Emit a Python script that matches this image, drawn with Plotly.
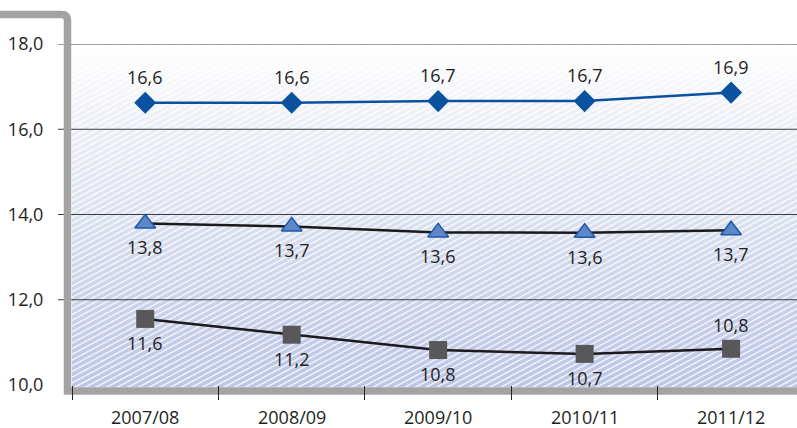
import base64
import plotly.graph_objects as go

# ---- data ----
years = ["2007/08", "2008/09", "2009/10", "2010/11", "2011/12"]
diamond_vals = [16.62, 16.62, 16.66, 16.66, 16.86]
diamond_labels = ["16,6", "16,6", "16,7", "16,7", "16,9"]
triangle_vals = [13.79, 13.72, 13.58, 13.57, 13.63]
triangle_labels = ["13,8", "13,7", "13,6", "13,6", "13,7"]
square_vals = [11.55, 11.18, 10.82, 10.73, 10.85]
square_labels = ["11,6", "11,2", "10,8", "10,7", "10,8"]
square_label_above = [False, False, False, False, True]
y_ticks = [10, 12, 14, 16, 18]
y_ticktext = ["10,0", "12,0", "14,0", "16,0", "18,0"]
grid_vals = [12, 14, 16, 18]

FONT = "Open Sans"
TXT = "#231f20"
FS = 18

W, H = 797, 428
ML, MR, MT, MB = 72, 0, 44, 43
PW, PH = W - ML - MR, H - MT - MB


def px(x):
    return (x - ML) / PW


def py(y):
    return (H - MB - y) / PH


# hatched gradient background as svg
svg = f'''<svg xmlns="http://www.w3.org/2000/svg" width="{PW}" height="{PH}" viewBox="0 0 {PW} {PH}" preserveAspectRatio="none">
<defs>
<linearGradient id="g" x1="0" y1="0" x2="0" y2="1">
<stop offset="0" stop-color="#ffffff"/>
<stop offset="0.25" stop-color="#eceef6"/>
<stop offset="0.5" stop-color="#dce1ef"/>
<stop offset="0.75" stop-color="#cad1ea"/>
<stop offset="1" stop-color="#bcc5e6"/>
</linearGradient>
<pattern id="p" width="5" height="5" patternUnits="userSpaceOnUse" patternTransform="rotate(-28)">
<line x1="0" y1="2.5" x2="5" y2="2.5" stroke="#ffffff" stroke-width="1.5"/>
</pattern>
</defs>
<rect x="0" y="0" width="{PW}" height="{PH}" fill="url(#g)"/>
<rect x="0" y="0" width="{PW}" height="{PH}" fill="url(#p)" opacity="0.8"/>
</svg>'''
bg_uri = "data:image/svg+xml;base64," + base64.b64encode(svg.encode()).decode()

fig = go.Figure()

fig.add_trace(go.Scatter(
    x=years, y=diamond_vals, mode="lines+markers",
    line=dict(color="#0a52a0", width=2.5),
    marker=dict(symbol="diamond", size=17, color="#0a52a0"),
    cliponaxis=False, hoverinfo="skip", showlegend=False,
))
fig.add_trace(go.Scatter(
    x=years, y=triangle_vals, mode="lines+markers",
    line=dict(color="#1a1a1a", width=2.5),
    marker=dict(symbol="triangle-up", size=18, color="#5f86c6",
                line=dict(color="#1d5aa8", width=1.5)),
    cliponaxis=False, hoverinfo="skip", showlegend=False,
))
fig.add_trace(go.Scatter(
    x=years, y=square_vals, mode="lines+markers",
    line=dict(color="#1a1a1a", width=2.5),
    marker=dict(symbol="square", size=18, color="#58585a"),
    cliponaxis=False, hoverinfo="skip", showlegend=False,
))

annotations = []
for xv, yv, t in zip(years, diamond_vals, diamond_labels):
    annotations.append(dict(x=xv, y=yv, text=t, showarrow=False, yshift=26))
for xv, yv, t in zip(years, triangle_vals, triangle_labels):
    annotations.append(dict(x=xv, y=yv, text=t, showarrow=False, yshift=-24))
for xv, yv, t, up in zip(years, square_vals, square_labels, square_label_above):
    annotations.append(dict(x=xv, y=yv, text=t, showarrow=False, yshift=24 if up else -24))
# category labels under the axis
for xv in years:
    annotations.append(dict(x=xv, xref="x", y=py(417), yref="paper", text=xv,
                            showarrow=False, yanchor="middle"))
for a in annotations:
    a["font"] = dict(family=FONT, size=FS, color=TXT)

shapes = []
for g in grid_vals:
    shapes.append(dict(type="line", xref="paper", yref="y", x0=px(58), x1=1, y0=g, y1=g,
                       line=dict(color="#3c3c3c", width=1), layer="below"))

rx, ry = 6 / PW, 6 / PH
frame_path = (
    f"M {px(0)},{py(14.5)} L {px(67.5) - rx},{py(14.5)} "
    f"Q {px(67.5)},{py(14.5)} {px(67.5)},{py(14.5) - ry} "
    f"L {px(67.5)},{py(391)} L {px(W)},{py(391)}"
)
shapes.append(dict(type="path", xref="paper", yref="paper", path=frame_path,
                   line=dict(color="#a3a3a3", width=7.5), layer="below"))

fig.update_layout(
    width=W, height=H,
    margin=dict(l=ML, r=MR, t=MT, b=MB, pad=0),
    paper_bgcolor="white", plot_bgcolor="rgba(0,0,0,0)",
    font=dict(family=FONT, size=FS, color=TXT),
    shapes=shapes,
    annotations=annotations,
    images=[dict(source=bg_uri, xref="paper", yref="paper", x=0, y=1, sizex=1, sizey=1.006,
                 xanchor="left", yanchor="top", sizing="stretch", layer="below")],
    hovermode=False,
)
fig.update_xaxes(
    type="category", range=[-0.5, 4.45], tickson="boundaries",
    ticks="outside", ticklen=14, tickwidth=1, tickcolor="#222222",
    showticklabels=False,
    showgrid=False, showline=False, zeroline=False, fixedrange=True,
)
fig.update_yaxes(
    range=[10, 18], tickvals=y_ticks, ticktext=y_ticktext,
    ticks="outside", ticklen=24, tickcolor="rgba(0,0,0,0)",
    showgrid=False, showline=False, zeroline=False,
    tickfont=dict(family=FONT, size=FS, color=TXT), fixedrange=True,
)

fig.write_html("out.html", config={"displayModeBar": False},
               post_script="document.body.style.margin='0';document.body.style.overflow='hidden';")
